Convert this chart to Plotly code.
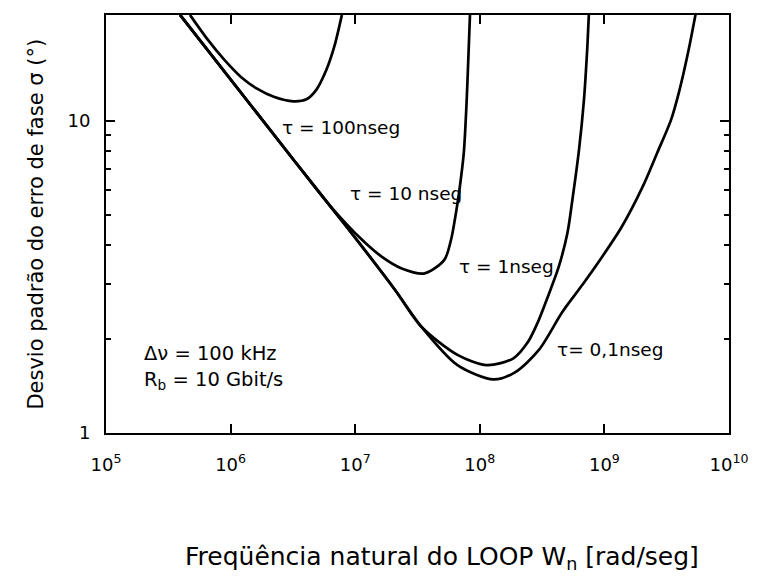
import numpy as np
import plotly.graph_objects as go

# Loop natural frequency Wn [rad/s] and phase-error std. deviation sigma [deg]
# Shared low-Wn branch for tau = 10, 1 and 0.1 ns
wn_common = [3.93e5, 3.21e6, 6.21e6]
sig_common = [21.9, 7.50, 5.38]

wn_100ns = [4.72e5, 6.58e5, 8.92e5, 1.21e6, 1.63e6, 2.22e6, 3.19e6, 4.06e6,
            4.87e6, 5.85e6, 6.80e6, 7.82e6]
sig_100ns = [21.9, 18.2, 15.7, 13.85, 12.7, 11.96, 11.57, 11.74,
             12.59, 14.54, 17.34, 21.9]

wn_10ns = [1.14e7, 1.64e7, 2.36e7, 3.61e7, 5.19e7, 5.87e7, 6.62e7, 7.24e7,
           7.47e7, 7.85e7, 8.11e7, 8.34e7]
sig_10ns = [4.155, 3.67, 3.37, 3.25, 3.59, 4.155, 5.45, 7.13,
            8.07, 11.68, 16.28, 21.9]

wn_1ns = [1.14e7, 2.09e7, 3.40e7, 6.62e7, 1.14e8, 1.86e8, 2.44e8, 2.93e8,
          3.51e8, 4.29e8, 5.05e8, 5.53e8, 6.25e8, 6.85e8, 7.27e8, 7.50e8]
sig_1ns = [3.95, 2.875, 2.19, 1.78, 1.65, 1.735, 1.96, 2.27,
           2.73, 3.40, 4.375, 5.58, 8.07, 11.68, 16.87, 21.9]

wn_01ns = [1.14e7, 2.09e7, 3.40e7, 6.62e7, 1.29e8, 1.93e8, 2.98e8, 4.61e8,
           6.64e8, 9.21e8, 1.375e9, 2.02e9, 2.65e9, 3.42e9, 3.95e9, 4.74e9, 5.38e9]
sig_01ns = [3.95, 2.875, 2.19, 1.65, 1.485, 1.568, 1.847, 2.447,
            2.98, 3.585, 4.575, 6.14, 7.90, 10.07, 12.29, 16.89, 21.9]

# Curve labels: (text, Wn, sigma) at the label's left edge
curve_labels = [
    ("τ = 100nseg", 2.49e6, 9.56),
    ("τ = 10 nseg", 8.72e6, 5.88),
    ("τ = 1nseg", 6.58e7, 3.41),
    ("τ= 0,1nseg", 3.99e8, 1.847),
]
param_labels = [
    ("Δν = 100 kHz", 1.94e5, 1.80),
    ("R<sub>b</sub> = 10 Gbit/s", 1.94e5, 1.476),
]

x_tickvals = [1e5, 1e6, 1e7, 1e8, 1e9, 1e10]
x_ticktext = ["10<sup>5</sup>", "10<sup>6</sup>", "10<sup>7</sup>",
              "10<sup>8</sup>", "10<sup>9</sup>", "10<sup>10</sup>"]
y_tickvals = [1, 10]
y_ticktext = ["1", "10"]
y_minor = [2, 3, 4, 5, 6, 7, 8, 9]

FONT = "DejaVu Sans"
line = dict(color="black", width=2.7, shape="spline", smoothing=0.8)

fig = go.Figure()
series = [
    (wn_100ns, sig_100ns),
    (wn_common + wn_10ns, sig_common + sig_10ns),
    (wn_common + wn_1ns, sig_common + sig_1ns),
    (wn_common + wn_01ns, sig_common + sig_01ns),
]
for wx, sy in series:
    fig.add_trace(go.Scatter(x=wx, y=sy, mode="lines", line=line,
                             showlegend=False, hoverinfo="skip"))

annotations = []
for text, wx, sy in curve_labels:
    annotations.append(dict(x=np.log10(wx), y=np.log10(sy), xref="x", yref="y",
                            text=text, showarrow=False, xanchor="left",
                            yanchor="middle",
                            font=dict(family=FONT, size=18.5, color="black")))
for text, wx, sy in param_labels:
    annotations.append(dict(x=np.log10(wx), y=np.log10(sy), xref="x", yref="y",
                            text=text, showarrow=False, xanchor="left",
                            yanchor="middle",
                            font=dict(family=FONT, size=19.5, color="black")))

annotations.append(dict(x=0.539, y=-0.299, xref="paper", yref="paper",
                        text="Freqüência natural do LOOP W<sub>n</sub> [rad/seg]",
                        showarrow=False, xanchor="center", yanchor="middle",
                        font=dict(family=FONT, size=25, color="black")))
annotations.append(dict(x=-0.113, y=0.5, xref="paper", yref="paper",
                        text="Desvio padrão do erro de fase σ (°)", textangle=-90,
                        showarrow=False, xanchor="center", yanchor="middle",
                        font=dict(family=FONT, size=21, color="black")))

axis_common = dict(showgrid=False, zeroline=False, showline=True, linecolor="black",
                   linewidth=2, mirror="allticks", ticks="inside", tickcolor="black",
                   tickwidth=1.5,
                   tickfont=dict(family=FONT, size=18, color="black"))

fig.update_layout(
    width=760, height=578,
    margin=dict(l=106, r=21, t=15, b=145),
    paper_bgcolor="white", plot_bgcolor="white",
    annotations=annotations,
    xaxis=dict(type="log", range=[5, 10], tickvals=x_tickvals, ticktext=x_ticktext,
               ticklen=9, ticklabelstandoff=14, **axis_common),
    yaxis=dict(type="log", range=[0, 1.34], tickvals=y_tickvals, ticktext=y_ticktext,
               ticklen=9, ticklabelstandoff=10,
               minor=dict(tickvals=y_minor, ticks="inside", ticklen=5,
                          tickcolor="black", tickwidth=1.5, showgrid=False),
               **axis_common),
)

fig.write_html("out.html")
